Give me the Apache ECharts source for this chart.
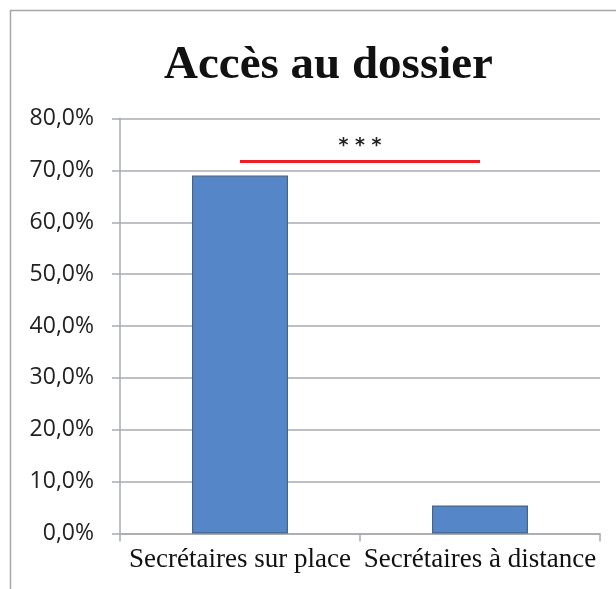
<!DOCTYPE html>
<html>
<head>
<meta charset="utf-8">
<script src="https://cdn.jsdelivr.net/npm/echarts@6/dist/echarts.min.js"></script>
<style>
  html, body { margin: 0; padding: 0; background: #fff; }
  #chart { width: 616px; height: 589px; }
</style>
</head>
<body>
<div id="chart"></div>
<script>
// chart data
const categories = ['Secrétaires sur place', 'Secrétaires à distance'];
const values = [69.0, 5.4];
const yTicks = [0, 10, 20, 30, 40, 50, 60, 70, 80];
// significance bar between the two groups
const sigLevel = [71.8];
const sigLabel = ['* * *'];

const chart = echarts.init(document.getElementById('chart'));

const gridColor = '#a7abb0';

const option = {
  animation: false,
  title: {
    text: 'Accès au dossier',
    left: 159,
    top: 37,
    textStyle: {
      fontFamily: 'Liberation Serif',
      fontWeight: 'bold',
      fontSize: 47,
      color: '#111'
    }
  },
  graphic: [
    {
      type: 'rect',
      shape: { x: 10.5, y: 10.5, width: 640, height: 640 },
      style: { fill: 'none', stroke: '#a6a6a6', lineWidth: 1.5 },
      silent: true
    }
  ],
  grid: { left: 120, right: 16, top: 118.5, bottom: 55.5 },
  xAxis: {
    type: 'category',
    data: categories,
    axisLine: { lineStyle: { color: gridColor, width: 1.5 } },
    axisTick: { show: true, length: 8, lineStyle: { color: gridColor, width: 1.5 } },
    axisLabel: {
      fontFamily: 'Liberation Serif',
      fontSize: 27,
      color: '#111',
      margin: 13,
      interval: 0
    }
  },
  yAxis: {
    type: 'value',
    min: yTicks[0],
    max: yTicks[yTicks.length - 1],
    interval: 10,
    axisLine: { show: true, lineStyle: { color: gridColor, width: 1.5 } },
    axisTick: { show: true, length: 8, lineStyle: { color: gridColor, width: 1.5 } },
    splitLine: { lineStyle: { color: gridColor, width: 1.5 } },
    axisLabel: {
      fontFamily: 'Open Sans',
      fontSize: 23,
      color: '#222',
      margin: 26,
      formatter: (v) => v.toFixed(1).replace('.', ',') + '%'
    }
  },
  series: [
    {
      type: 'bar',
      data: values,
      barWidth: 96,
      itemStyle: {
        color: '#5587c8',
        borderColor: '#456487',
        borderWidth: 1.2
      },
      markLine: {
        silent: true,
        symbol: 'none',
        lineStyle: { color: '#ee1c24', width: 3, type: 'solid' },
        label: {
          show: true,
          position: 'middle',
          formatter: sigLabel[0],
          fontFamily: 'DejaVu Sans',
          fontWeight: 'bold',
          fontSize: 19,
          color: '#222',
          distance: 5
        },
        data: [
          [
            { coord: [0, sigLevel[0]] },
            { coord: [1, sigLevel[0]] }
          ]
        ]
      }
    }
  ]
};

chart.setOption(option);
</script>
</body>
</html>
